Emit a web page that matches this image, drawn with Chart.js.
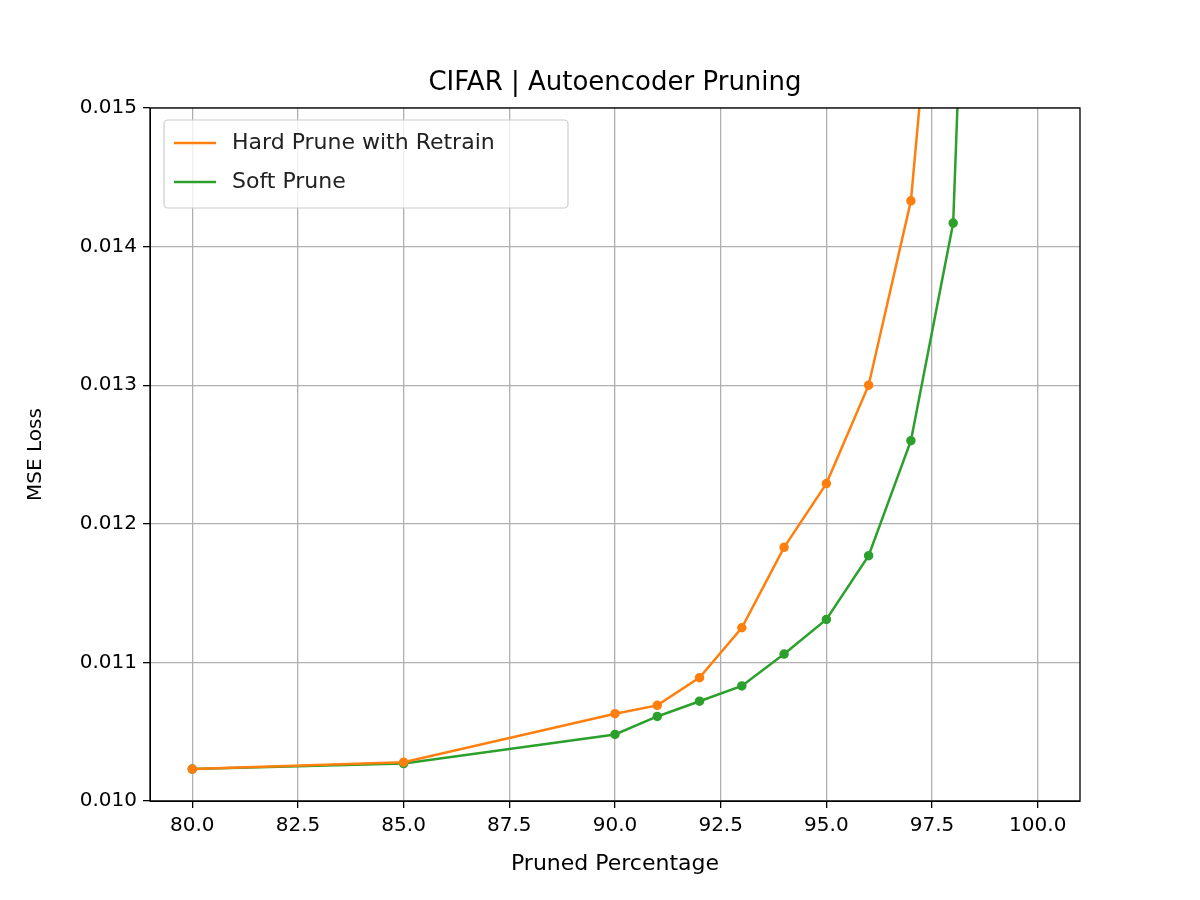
<!DOCTYPE html>
<html><head><script src="https://cdn.jsdelivr.net/npm/chart.js@4"></script>
<style>body{margin:0;background:#fff}</style></head>
<body><canvas id="c" width="1200" height="900" style="width:1200px;height:900px"></canvas>
<script>
const xs = [80,85,90,91,92,93,94,95,96,97,98];
const hardVals = [0.01023,0.01028,0.01063,0.01069,0.01089,0.01125,0.01183,0.01229,0.01300,0.01433,0.0177];
const xsSoft = [80,85,90,91,92,93,94,95,96,97,98,99];
const softVals = [0.01023,0.01027,0.01048,0.01061,0.01072,0.01083,0.01106,0.01131,0.01177,0.01260,0.01417,0.0225];
const xTicks = [80,82.5,85,87.5,90,92.5,95,97.5,100];
const yTicks = [0.010,0.011,0.012,0.013,0.014,0.015];
const F = "'DejaVu Sans', sans-serif";
const extra = {id:'extra', afterDraw(ch){
  const c=ch.ctx,a=ch.chartArea;
  c.save();c.strokeStyle='#000';c.lineWidth=1.3;c.strokeRect(a.left,a.top,a.right-a.left,a.bottom-a.top);
  c.fillStyle='#000';c.font='26px '+F;c.textAlign='center';c.textBaseline='alphabetic';
  c.fillText('CIFAR | Autoencoder Pruning',(a.left+a.right)/2,90);
  const lx=a.left+14,ly=a.top+12;
  c.fillStyle='rgba(255,255,255,0.8)';c.strokeStyle='#ccc';c.lineWidth=1.2;
  c.beginPath();c.roundRect(lx,ly,404,88,4);c.fill();c.stroke();
  c.font='22px '+F;c.textAlign='left';c.textBaseline='middle';
  ch.data.datasets.forEach((d,i)=>{const y=ly+23+i*39;
    c.strokeStyle=d.borderColor;c.lineWidth=2.5;c.beginPath();c.moveTo(lx+10,y);c.lineTo(lx+52,y);c.stroke();
    c.fillStyle='#222';c.fillText(d.label,lx+68,y);});
  c.restore();}};
new Chart(document.getElementById('c'),{type:'line',
 data:{datasets:[
  {label:'Hard Prune with Retrain',data:xs.map((x,i)=>({x,y:hardVals[i]})),borderColor:'#ff7f0e',backgroundColor:'#ff7f0e',borderWidth:2.5,pointRadius:3.5,tension:0},
  {label:'Soft Prune',data:xsSoft.map((x,i)=>({x,y:softVals[i]})),borderColor:'#2ca02c',backgroundColor:'#2ca02c',borderWidth:2.5,pointRadius:3.5,tension:0}]},
 options:{responsive:false,animation:false,devicePixelRatio:1,
  layout:{padding:{left:20,right:120,top:108,bottom:19}},
  plugins:{legend:{display:false},title:{display:false},tooltip:{enabled:false}},
  scales:{
   x:{type:'linear',min:79,max:101,afterBuildTicks:s=>{s.ticks=xTicks.map(v=>({value:v}))},
     afterFit:s=>{s.height=80},
     ticks:{color:'#000',font:{size:20,family:F},callback:v=>v.toFixed(1),maxRotation:0,padding:6},
     grid:{color:'#b0b0b0',lineWidth:1.3,tickLength:7,tickColor:'#000'},border:{color:'#000'},
     title:{display:true,text:'Pruned Percentage',color:'#000',font:{size:22,family:F}}},
   y:{min:0.010,max:0.015,afterBuildTicks:s=>{s.ticks=yTicks.map(v=>({value:v}))},
     afterFit:s=>{s.width=130},
     ticks:{color:'#000',font:{size:20,family:F},callback:v=>v.toFixed(3),padding:6},
     grid:{color:'#b0b0b0',lineWidth:1.3,tickLength:7,tickColor:'#000'},border:{color:'#000'},
     title:{display:true,text:'MSE Loss',color:'#000',font:{size:20,family:F}}}}},
 plugins:[extra]});
</script></body></html>
